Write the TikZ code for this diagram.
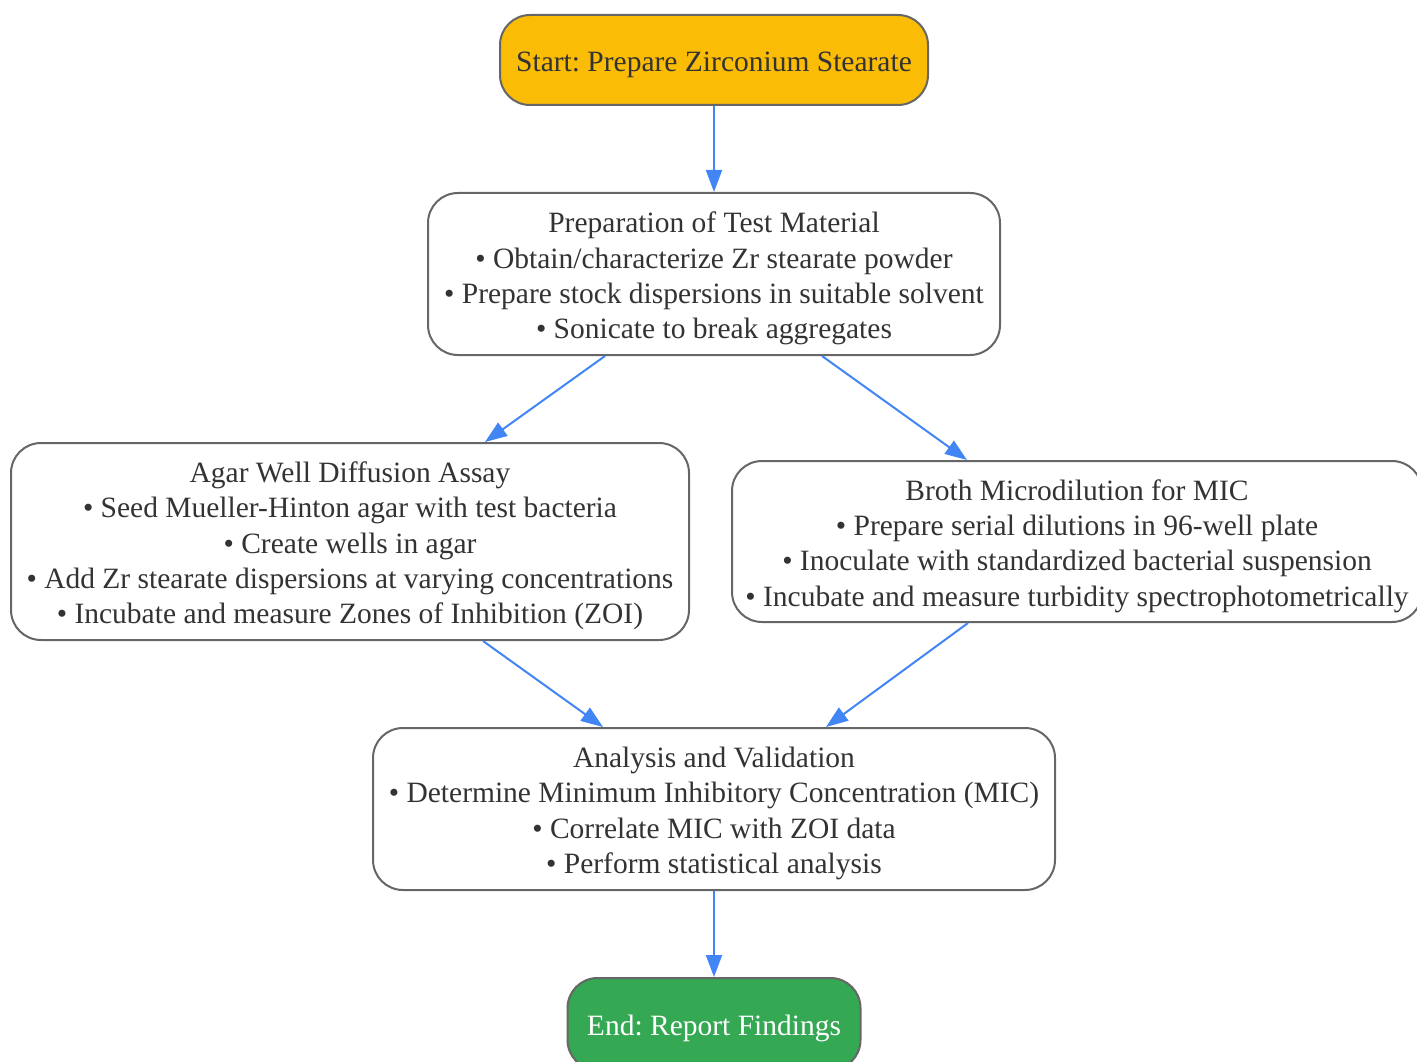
\documentclass[tikz,border=0pt]{standalone}
\usepackage{fontspec}
\setmainfont{Liberation Serif}
\usetikzlibrary{arrows.meta,calc}
\definecolor{txt}{HTML}{333333}
\definecolor{edge}{HTML}{666666}
\definecolor{arr}{HTML}{4285F4}
\definecolor{startc}{HTML}{FBBC05}
\definecolor{endc}{HTML}{34A853}
\tikzset{
  box/.style={draw=edge, line width=2pt, rounded corners=30pt, inner sep=0pt},
  lbl/.style={align=center, inner sep=0pt, text=txt, font=\frenchspacing\fontsize{29.5pt}{35.3pt}\selectfont},
  conn/.style={draw=arr, line width=2pt, -{Triangle[length=22pt,width=16pt]}},
}
\begin{document}
\begin{tikzpicture}[x=1pt,y=-1pt]
\useasboundingbox (0,0) rectangle (1417,1062);
\node[box, fill=startc, minimum width=428pt, minimum height=90pt] (start) at (714,60) {};
\node[lbl] (startt) at ([yshift=-5pt]start.center) {Start: Prepare Zirconium Stearate};
\node[box, fill=white, minimum width=572pt, minimum height=162pt] (prep) at (714,274) {};
\node[lbl] (prept) at ([yshift=-4.5pt]prep.center)
  {Preparation of Test Material\\ • Obtain/characterize Zr stearate powder\\ • Prepare stock dispersions in suitable solvent\\ • Sonicate to break aggregates};
\node[box, fill=white, minimum width=678pt, minimum height=197pt] (agar) at (350,541.5) {};
\node[lbl] (agart) at ([yshift=-4.5pt]agar.center)
  {Agar Well Diffusion Assay\\ • Seed Mueller-Hinton agar with test bacteria\\ • Create wells in agar\\ • Add Zr stearate dispersions at varying concentrations\\ • Incubate and measure Zones of Inhibition (ZOI)};
\node[box, fill=white, minimum width=690pt, minimum height=161pt] (broth) at (1077,541.5) {};
\node[lbl] (brotht) at ([yshift=-4.5pt]broth.center)
  {Broth Microdilution for MIC\\ • Prepare serial dilutions in 96-well plate\\ • Inoculate with standardized bacterial suspension\\ • Incubate and measure turbidity spectrophotometrically};
\node[box, fill=white, minimum width=682pt, minimum height=162pt] (ana) at (714,809) {};
\node[lbl] (anat) at ([yshift=-4.5pt]ana.center)
  {Analysis and Validation\\ • Determine Minimum Inhibitory Concentration (MIC)\\ • Correlate MIC with ZOI data\\ • Perform statistical analysis};
\node[box, fill=endc, minimum width=293pt, minimum height=92pt] (end) at (714,1024) {};
\node[lbl, text=white] (endt) at ([yshift=-4.5pt]end.center) {End: Report Findings};
\draw[conn] (start.south) -- (prep.north);
\draw[conn] ([xshift=-109pt]prep.south) -- ([xshift=135pt]agar.north);
\draw[conn] ([xshift=108pt]prep.south) -- ([xshift=-110pt]broth.north);
\draw[conn] ([xshift=133pt]agar.south) -- ([xshift=-111pt]ana.north);
\draw[conn] ([xshift=-109pt]broth.south) -- ([xshift=112pt]ana.north);
\draw[conn] (ana.south) -- (end.north);
\end{tikzpicture}
\end{document}
